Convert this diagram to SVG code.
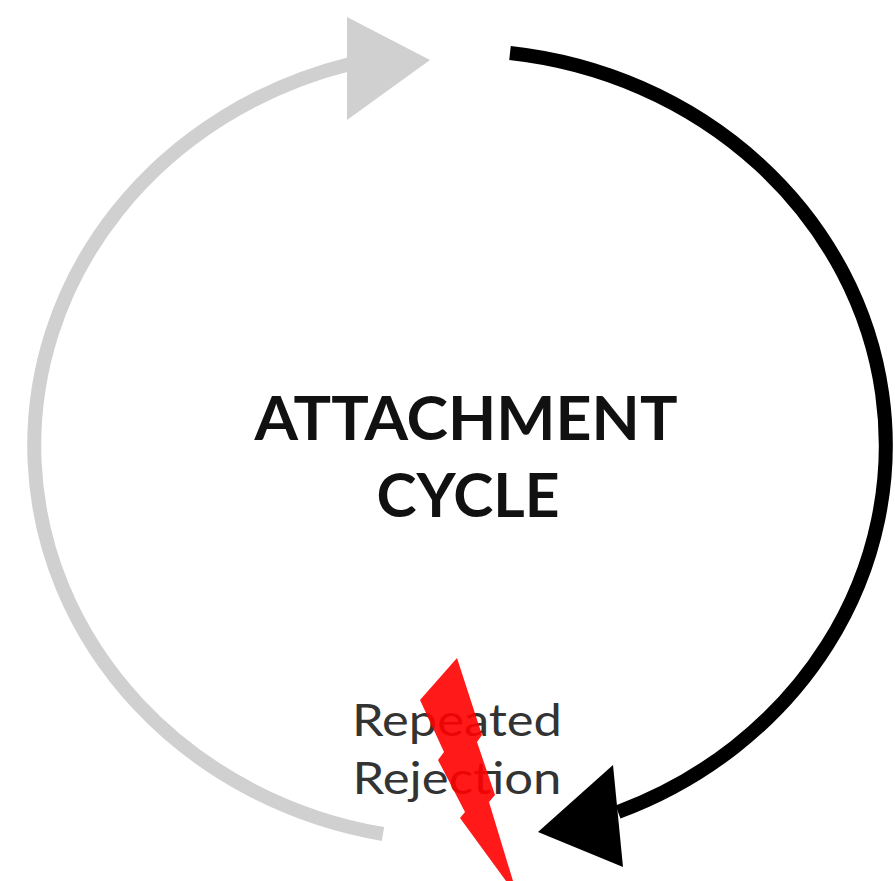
<svg xmlns="http://www.w3.org/2000/svg" width="895" height="881" viewBox="0 0 895 881">
<style>
.arc{fill:none;stroke-width:14;stroke-linecap:butt}
.title{font-family:"Lato","Liberation Sans",sans-serif;font-weight:bold;font-size:62px;fill:#111;text-anchor:middle}
.label{font-family:"Lato","Liberation Sans",sans-serif;font-weight:normal;font-size:44px;fill:#333333;text-anchor:middle}
</style>
<rect width="895" height="881" fill="#ffffff"/>
<g id="connectors">
<path class="arc" stroke="#000000" d="M510,53 A426,395 0 0 1 618,812"/>
<polygon fill="#000000" points="538,832 613,765 623,867"/>
<path class="arc" stroke="#d0d0d0" d="M383,834 A426,395 0 0 1 350,64"/>
<polygon fill="#d0d0d0" points="430,60 347,17 347,120"/>
</g>
<g id="center">
<text class="title" x="466" y="440" textLength="423" lengthAdjust="spacingAndGlyphs">ATTACHMENT</text>
<text class="title" x="468" y="517" textLength="183" lengthAdjust="spacingAndGlyphs">CYCLE</text>
</g>
<g id="rejection">
<text class="label" x="457" y="736" textLength="210" lengthAdjust="spacingAndGlyphs">Repeated</text>
<text class="label" x="457" y="794" textLength="209" lengthAdjust="spacingAndGlyphs">Rejection</text>
<polygon fill="#ff0000" fill-opacity="0.9" points="457,658 482,735 477,742 495,795 489,802 513,881 506,881 460,818 465,812 438,760 444,752 420,700"/>
</g>
</svg>
